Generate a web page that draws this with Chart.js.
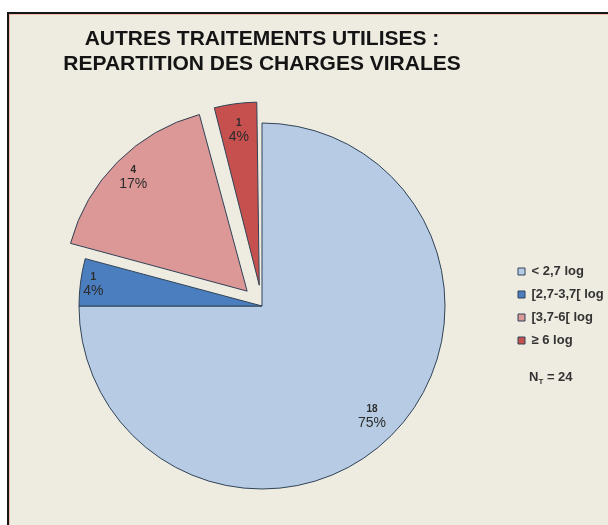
<!DOCTYPE html>
<html>
<head>
<meta charset="utf-8">
<script src="https://cdn.jsdelivr.net/npm/chart.js@4.4.0/dist/chart.umd.min.js"></script>
<style>
  html, body { margin: 0; padding: 0; width: 608px; height: 525px; overflow: hidden; background: #ffffff; }
  #frame {
    position: absolute; left: 7px; top: 12px; width: 640px; height: 560px;
    background: #eeebe0;
    border-left: 2px solid #161616; border-top: 2px solid #161616;
    box-shadow: inset 1px 1px 0 #f1bca8;
  }
  #c { position: absolute; left: 0; top: 0; }
</style>
</head>
<body>
<div id="frame"></div>
<canvas id="c" width="608" height="525"></canvas>
<script>
// Chart text and values
const titleLines = ['AUTRES TRAITEMENTS UTILISES :', 'REPARTITION DES CHARGES VIRALES'];
const categories = ['< 2,7 log', '[2,7-3,7[ log', '[3,7-6[ log', '\u2265 6 log'];
const patients = [18, 1, 4, 1];
const sliceColors = ['#b7cce4', '#4a7ebf', '#dc9896', '#c5504d'];

// Styling
const FONT = '"Liberation Sans", Arial, sans-serif';
const SLICE_R = 183;                 // pie radius in pixels
const explode = [0, 0, 84, 84];      // arc offset option (Chart.js moves an arc by offset / 4)
const labelRadius = [0.85, 0.93, 0.88, 0.855];

const total = patients.reduce((a, b) => a + b, 0);

// Keep exploded slices at the same radius as the others
const keepRadius = {
  id: 'keepRadius',
  beforeDatasetsDraw(chart) {
    chart.getDatasetMeta(0).data.forEach((arc, i) => {
      const shift = explode[i] / 4;
      const fix = 1 - Math.sin(Math.min(Math.PI, arc.circumference));
      arc.outerRadius = SLICE_R - shift * fix;
    });
  }
};

// Count and percentage written inside each slice
const sliceLabels = {
  id: 'sliceLabels',
  afterDatasetsDraw(chart) {
    const ctx = chart.ctx;
    chart.getDatasetMeta(0).data.forEach((arc, i) => {
      const mid = (arc.startAngle + arc.endAngle) / 2;
      const r = SLICE_R * labelRadius[i] + explode[i] / 4;
      const x = arc.x + Math.cos(mid) * r;
      const y = arc.y + Math.sin(mid) * r;
      ctx.save();
      ctx.fillStyle = '#2b2b2b';
      ctx.textAlign = 'center';
      ctx.textBaseline = 'middle';
      ctx.font = 'bold 10px ' + FONT;
      ctx.fillText(String(patients[i]), x, y - 7);
      ctx.font = '14px ' + FONT;
      ctx.fillText(Math.round(patients[i] / total * 100) + '%', x, y + 7);
      ctx.restore();
    });
  }
};

// Total count under the legend: N with subscript T
const totalNote = {
  id: 'totalNote',
  afterDraw(chart) {
    const lg = chart.legend;
    if (!lg || !lg.legendHitBoxes || !lg.legendHitBoxes.length) return;
    const last = lg.legendHitBoxes[lg.legendHitBoxes.length - 1];
    const ctx = chart.ctx;
    let x = last.left + 11;
    const y = last.top + last.height / 2 + 37;
    ctx.save();
    ctx.fillStyle = '#333333';
    ctx.textAlign = 'left';
    ctx.textBaseline = 'middle';
    ctx.font = 'bold 13px ' + FONT;
    ctx.fillText('N', x, y);
    x += ctx.measureText('N').width;
    ctx.font = 'bold 8px ' + FONT;
    ctx.fillText('T', x, y + 4);
    x += ctx.measureText('T').width;
    ctx.font = 'bold 13px ' + FONT;
    ctx.fillText(' = ' + total, x, y);
    ctx.restore();
  }
};

new Chart(document.getElementById('c'), {
  type: 'pie',
  data: {
    labels: categories,
    datasets: [{
      data: patients,
      backgroundColor: sliceColors,
      borderColor: '#2f4256',
      borderWidth: 1,
      offset: explode
    }]
  },
  options: {
    responsive: false,
    animation: false,
    events: [],
    radius: SLICE_R,
    layout: { padding: { left: 16, right: 0, top: 27, bottom: 3 } },
    plugins: {
      title: {
        display: true,
        text: titleLines,
        fullSize: false,
        color: '#141414',
        font: { family: FONT, size: 21, weight: 'bold', lineHeight: 25 / 21 },
        padding: { top: 0, bottom: 13 }
      },
      legend: {
        position: 'right',
        align: 'center',
        fullSize: false,
        maxWidth: 100,
        labels: {
          color: '#333333',
          font: { family: FONT, size: 13, weight: 'bold' },
          boxWidth: 7,
          boxHeight: 7,
          padding: 10
        }
      },
      tooltip: { enabled: false }
    }
  },
  plugins: [keepRadius, sliceLabels, totalNote]
});
</script>
</body>
</html>
